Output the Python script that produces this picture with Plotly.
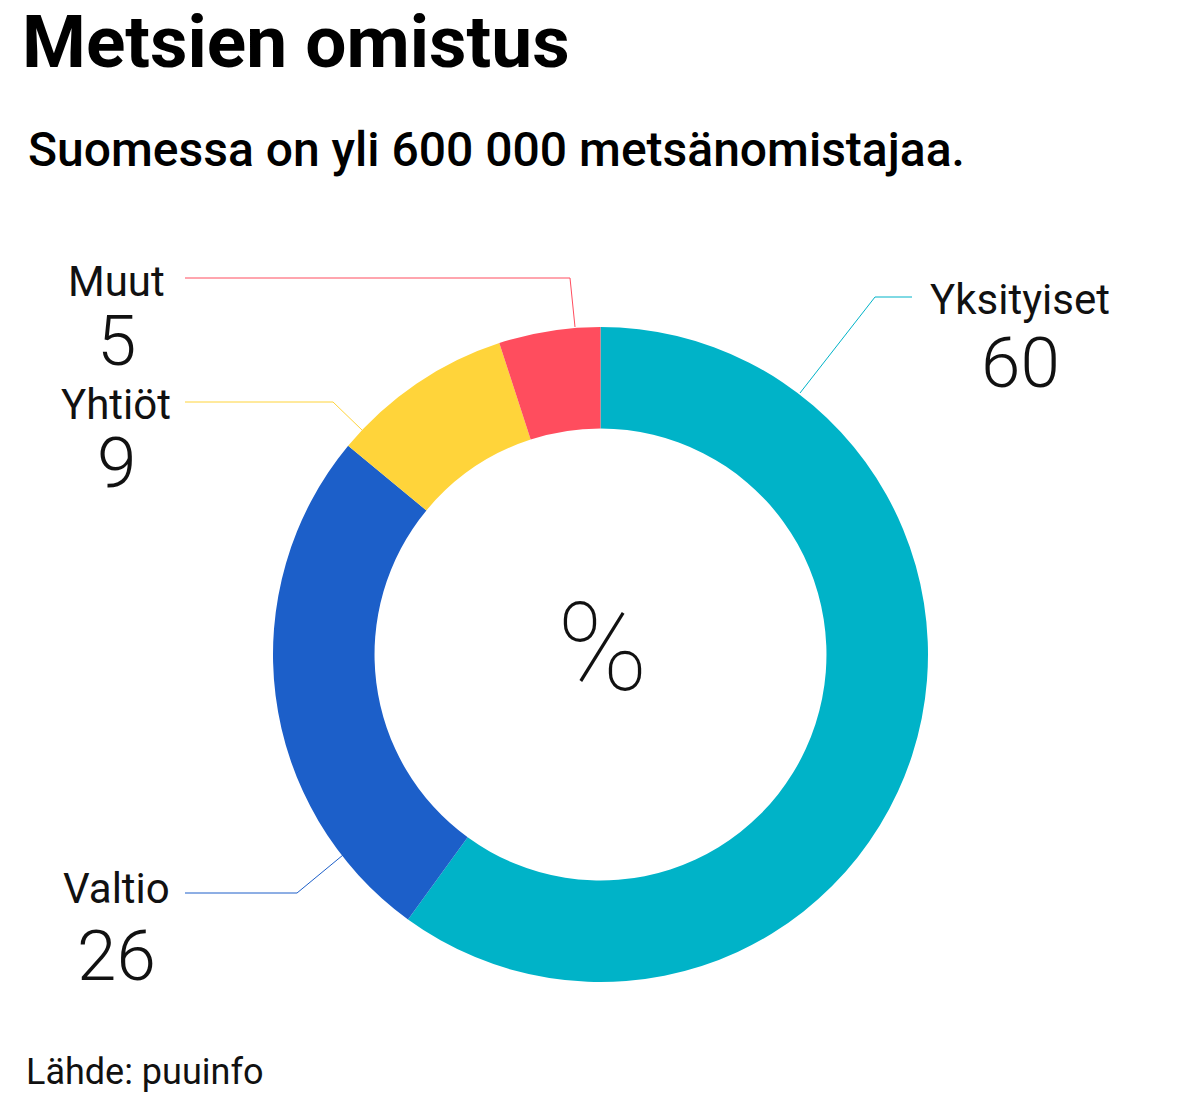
import plotly.graph_objects as go

labels = ["Yksityiset", "Valtio", "Yhtiöt", "Muut"]
values = [60, 26, 9, 5]
colors = ["#00B3C8", "#1C5FC9", "#FFD43A", "#FF4D5E"]

W, H = 1198, 1111
OFF = 8
def px(x, y):
    return (x - OFF) / W, 1 - (y - OFF) / H

fig = go.Figure(go.Pie(
    labels=labels, values=values, hole=0.69, sort=False, direction="clockwise",
    rotation=0, marker=dict(colors=colors, line=dict(width=0)),
    textinfo="none", hoverinfo="label+value",
    domain=dict(x=[px(273, 0)[0], px(928, 0)[0]], y=[px(0, 982)[1], px(0, 327)[1]]),
))

anns = []
def txt(x, y, s, size, color="#111", weight=None, xanchor="center", family="Roboto"):
    xx, yy = px(x, y)
    anns.append(dict(x=xx, y=yy, xref="paper", yref="paper", text=s, showarrow=False,
                     xanchor=xanchor, yanchor="middle",
                     font=dict(size=size, color=color, family=family, weight=weight)))

txt(20, 42, "<b>Metsien omistus</b>", 73, "#000", xanchor="left")
txt(26, 150, "Suomessa on yli 600 000 metsänomistajaa.", 48, "#000", weight=500, xanchor="left")
txt(24, 1072, "Lähde: puuinfo", 36, "#111", xanchor="left")
txt(602, 648, "%", 122, "#111", weight=100)

label_pos = {"Yksityiset": (1020, 300, 362), "Valtio": (116, 888, 955),
             "Yhtiöt": (116, 404, 462), "Muut": (116, 282, 340)}
for lab, v in zip(labels, values):
    x, yl, yv = label_pos[lab]
    txt(x, yl, lab, 42)
    txt(x, yv, str(v), 71, weight=300)

leaders = [([800, 875, 912], [393, 297, 297], colors[0]),
           ([343, 297, 185], [855, 893, 893], colors[1]),
           ([362, 333, 185], [430, 402, 402], colors[2]),
           ([575, 570, 185], [327, 278, 278], colors[3])]
shapes = []
for xs, ys, c in leaders:
    path = "M " + " L ".join(f"{px(a,b)[0]},{px(a,b)[1]}" for a, b in zip(xs, ys))
    shapes.append(dict(type="path", path=path, xref="paper", yref="paper",
                       line=dict(color=c, width=1)))

fig.update_layout(width=W, height=H, margin=dict(l=0, r=0, t=0, b=0),
                  paper_bgcolor="white", showlegend=False,
                  annotations=anns, shapes=shapes)
fig.write_html("out.html")
